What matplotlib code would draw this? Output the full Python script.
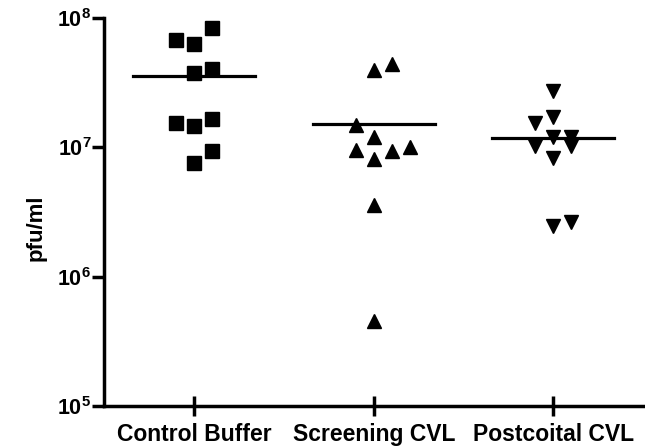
import matplotlib
matplotlib.use("Agg")
import matplotlib.pyplot as plt
import numpy as np
from matplotlib.ticker import FixedLocator, FuncFormatter, NullLocator

plt.rcParams["font.family"] = ["Liberation Sans", "DejaVu Sans"]
plt.rcParams["mathtext.fontset"] = "custom"
plt.rcParams["mathtext.rm"] = "Liberation Sans"
plt.rcParams["mathtext.bf"] = "Liberation Sans:bold"

groups = ["Control Buffer", "Screening CVL", "Postcoital CVL"]

control = [8.4e7, 6.8e7, 6.3e7, 3.76e7, 4.0e7, 1.55e7, 1.47e7, 1.66e7, 9.4e6, 7.5e6]
control_cols = [1, -1, 0, 0, 1, -1, 0, 1, 1, 0]

screening = [3.95e7, 4.44e7, 1.49e7, 1.19e7, 9.5e6, 8.05e6, 9.4e6, 1.01e7, 3.6e6, 4.57e5]
screening_cols = [0, 1, -1, 0, -1, 0, 1, 2, 0, 0]

postcoital = [2.70e7, 1.70e7, 1.54e7, 1.21e7, 1.21e7, 1.03e7, 1.03e7, 8.3e6, 2.48e6, 2.63e6]
postcoital_cols = [0, 0, -1, 0, 1, -1, 1, 0, 0, 1]

series = [(control, control_cols, "s"),
          (screening, screening_cols, "^"),
          (postcoital, postcoital_cols, "v")]

fig = plt.figure(figsize=(6.45, 4.48), dpi=100)
ax = fig.add_axes([0.162, 0.094, 0.835, 0.866])

for i, (vals, cols, marker) in enumerate(series):
    x = i + 0.1 * np.array(cols)
    ax.plot(x, vals, linestyle="none", marker=marker, markersize=9.5,
            color="black", clip_on=False)
    m = np.mean(vals)
    ax.plot([i - 0.34, i + 0.34], [m, m], color="black", linewidth=2.3)

ax.set_yscale("log")
ax.set_ylim(1e5, 1e8)
ax.set_xlim(-0.5, 2.5)
ax.yaxis.set_major_locator(FixedLocator([1e5, 1e6, 1e7, 1e8]))
ax.yaxis.set_minor_locator(NullLocator())
ax.yaxis.set_major_formatter(FuncFormatter(
    lambda v, p: r"$\mathbf{10^{%d}}$" % round(np.log10(v))))
ax.set_xticks(range(len(groups)))
ax.set_xticklabels(groups, fontsize=16.5, fontweight="bold")

for s in ["top", "right"]:
    ax.spines[s].set_visible(False)
for s in ["left", "bottom"]:
    ax.spines[s].set_linewidth(2.5)

ax.tick_params(axis="y", direction="out", length=8.5, width=2.5, labelsize=15.5, pad=1)
ax.tick_params(axis="x", direction="inout", length=14, width=2.5, pad=5)

ax.set_ylabel("pfu/ml", fontsize=16, fontweight="bold")
ax.yaxis.set_label_coords(-0.108, 0.46)

fig.savefig("out.png", dpi=100)
